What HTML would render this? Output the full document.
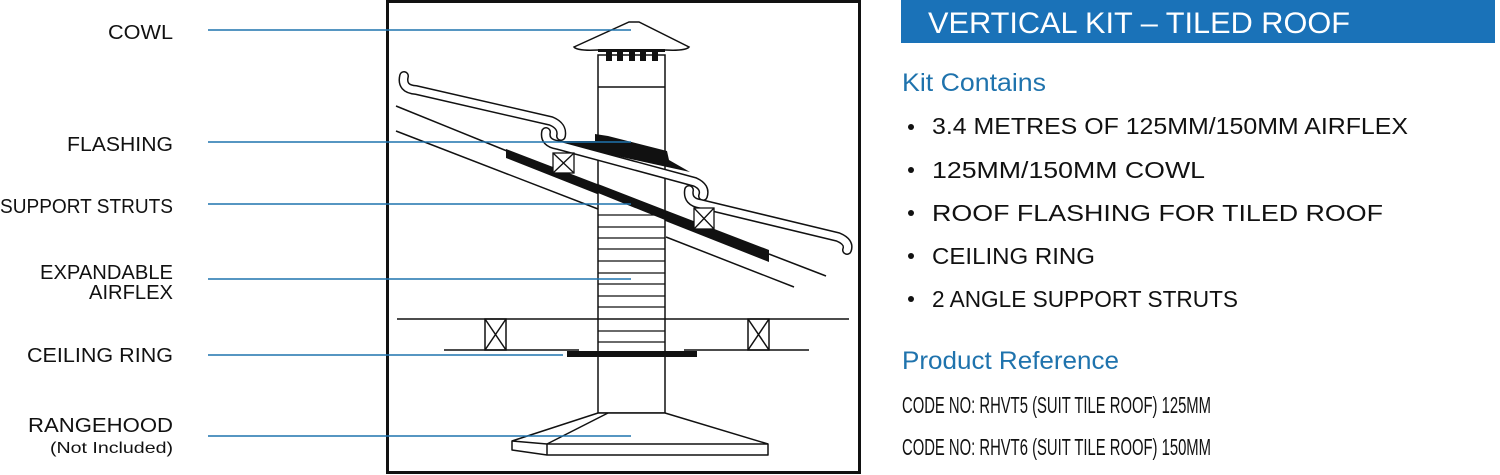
<!DOCTYPE html>
<html><head><meta charset="utf-8"><style>
html,body{margin:0;padding:0;background:#fff;}
svg{display:block;}
text{font-family:"Liberation Sans",sans-serif;}
</style></head><body>
<svg width="1500" height="475" viewBox="0 0 1500 475" xmlns="http://www.w3.org/2000/svg">
<!-- left labels -->
<g fill="#111" font-size="20" text-anchor="end">
<text x="173" y="39" textLength="65" lengthAdjust="spacingAndGlyphs">COWL</text>
<text x="173" y="151" textLength="106" lengthAdjust="spacingAndGlyphs">FLASHING</text>
<text x="173" y="213" textLength="173" lengthAdjust="spacingAndGlyphs">SUPPORT STRUTS</text>
<text x="173" y="279" textLength="133" lengthAdjust="spacingAndGlyphs">EXPANDABLE</text>
<text x="173" y="299" textLength="84" lengthAdjust="spacingAndGlyphs">AIRFLEX</text>
<text x="173" y="362" textLength="146" lengthAdjust="spacingAndGlyphs">CEILING RING</text>
<text x="173" y="432" textLength="145" lengthAdjust="spacingAndGlyphs">RANGEHOOD</text>
<text x="173" y="453" font-size="16" textLength="123" lengthAdjust="spacingAndGlyphs">(Not Included)</text>
</g>
<!-- frame -->
<rect x="387.5" y="1.5" width="472" height="471" fill="none" stroke="#111" stroke-width="3"/>
<g stroke="#111" stroke-width="1.5" fill="none">
<line x1="396" y1="106" x2="507" y2="151"/>
<line x1="769" y1="254" x2="826" y2="276"/>
<line x1="396" y1="131" x2="598" y2="209"/>
<line x1="666" y1="237" x2="794" y2="287"/>
</g>
<polygon points="506,149 769,250 769,262 506,158" fill="#111"/>
<!-- pipe -->
<rect x="598" y="55" width="67" height="358" fill="#fff" stroke="#111" stroke-width="1.5"/>
<line x1="598" y1="87" x2="665" y2="87" stroke="#111" stroke-width="1.5"/>
<g stroke="#111" stroke-width="1.3">
<line x1="598" y1="215" x2="665" y2="215"/><line x1="598" y1="227" x2="665" y2="227"/>
<line x1="598" y1="238" x2="665" y2="238"/><line x1="598" y1="249" x2="665" y2="249"/>
<line x1="598" y1="261" x2="665" y2="261"/><line x1="598" y1="273" x2="665" y2="273"/>
<line x1="598" y1="284" x2="665" y2="284"/><line x1="598" y1="296" x2="665" y2="296"/>
<line x1="598" y1="307" x2="665" y2="307"/><line x1="598" y1="331" x2="665" y2="331"/>
<line x1="598" y1="342" x2="665" y2="342"/>
</g>
<polygon points="598,184 665,210 665,220 598,193" fill="#111"/>
<!-- cowl -->
<path d="M629,22 L639,22 L689,47 Q686,51 665,50 L598,50 Q577,51 574,47 Z" fill="#fff" stroke="#111" stroke-width="1.5"/>
<rect x="598" y="49" width="67" height="3" fill="#111"/>
<g fill="#111"><rect x="606" y="50" width="6" height="11"/><rect x="617" y="50" width="6" height="11"/><rect x="629" y="50" width="6" height="11"/><rect x="640" y="50" width="6" height="11"/><rect x="652" y="50" width="6" height="11"/></g>
<!-- flashing -->
<polygon points="595,134 608,136 667,151 669,160 690,172 548,141 595,141" fill="#111"/>
<!-- tiles -->
<g fill="none" stroke-linecap="round" stroke-linejoin="round">
<path d="M404,76 Q401,89 416,90 L551,121 Q563,126 561,136" stroke="#111" stroke-width="10"/>
<path d="M404,76 Q401,89 416,90 L551,121 Q563,126 561,136" stroke="#fff" stroke-width="7"/>
<path d="M546,132 Q544,143 558,145 L695,182 Q706,187 703,196" stroke="#111" stroke-width="10"/>
<path d="M546,132 Q544,143 558,145 L695,182 Q706,187 703,196" stroke="#fff" stroke-width="7"/>
<path d="M689,190 Q687,202 701,204 L838,237 Q850,242 847,250" stroke="#111" stroke-width="10"/>
<path d="M689,190 Q687,202 701,204 L838,237 Q850,242 847,250" stroke="#fff" stroke-width="7"/>
</g>
<!-- struts -->
<g stroke="#111" stroke-width="1.3" fill="#fff">
<rect x="553" y="153" width="21" height="20"/><line x1="553" y1="153" x2="574" y2="173"/><line x1="574" y1="153" x2="553" y2="173"/>
<rect x="694" y="208" width="20" height="21"/><line x1="694" y1="208" x2="714" y2="229"/><line x1="714" y1="208" x2="694" y2="229"/>
</g>
<!-- ceiling -->
<g stroke="#111" stroke-width="1.5" fill="none">
<line x1="397" y1="319" x2="849" y2="319"/>
<line x1="444" y1="350" x2="579" y2="350"/>
<line x1="684" y1="350" x2="809" y2="350"/>
<rect x="485" y="319" width="21" height="31"/><line x1="485" y1="319" x2="506" y2="350"/><line x1="506" y1="319" x2="485" y2="350"/>
<rect x="748" y="319" width="21" height="31"/><line x1="748" y1="319" x2="769" y2="350"/><line x1="769" y1="319" x2="748" y2="350"/>
</g>
<rect x="567" y="351" width="130" height="6" fill="#111"/>
<!-- rangehood -->
<g stroke="#111" stroke-width="1.5" fill="#fff" stroke-linejoin="round">
<path d="M598,413 L665,413 L768,444 L768,455 L547,455 L512,450 L512,441 Z"/>
<line x1="547" y1="444" x2="768" y2="444"/>
<line x1="547" y1="444" x2="547" y2="455"/>
<line x1="512" y1="441" x2="547" y2="444"/>
<line x1="608" y1="413" x2="547" y2="444"/>
</g>
<!-- leader lines -->
<g stroke="#1f73ad" stroke-width="1.5">
<line x1="208" y1="30" x2="631" y2="30"/>
<line x1="208" y1="142" x2="631" y2="142"/>
<line x1="208" y1="204" x2="631" y2="204"/>
<line x1="208" y1="279" x2="631" y2="279"/>
<line x1="208" y1="355" x2="563" y2="355"/>
<line x1="208" y1="436" x2="631" y2="436"/>
</g>
<!-- right panel -->
<rect x="901" y="0" width="594" height="43" fill="#1a72b8"/>
<text x="928" y="33" fill="#fff" font-size="30" textLength="422" lengthAdjust="spacingAndGlyphs">VERTICAL KIT – TILED ROOF</text>
<text x="902" y="91" fill="#1f73ad" font-size="25" textLength="144" lengthAdjust="spacingAndGlyphs">Kit Contains</text>
<g fill="#111" font-size="23">
<circle cx="911" cy="127" r="3"/><text x="932" y="134" textLength="476" lengthAdjust="spacingAndGlyphs">3.4 METRES OF 125MM/150MM AIRFLEX</text>
<circle cx="911" cy="170" r="3"/><text x="932" y="178" textLength="273" lengthAdjust="spacingAndGlyphs">125MM/150MM COWL</text>
<circle cx="911" cy="213" r="3"/><text x="932" y="221" textLength="451" lengthAdjust="spacingAndGlyphs">ROOF FLASHING FOR TILED ROOF</text>
<circle cx="911" cy="256" r="3"/><text x="932" y="264" textLength="163" lengthAdjust="spacingAndGlyphs">CEILING RING</text>
<circle cx="911" cy="299" r="3"/><text x="932" y="307" textLength="306" lengthAdjust="spacingAndGlyphs">2 ANGLE SUPPORT STRUTS</text>
</g>
<text x="902" y="369" fill="#1f73ad" font-size="25" textLength="217" lengthAdjust="spacingAndGlyphs">Product Reference</text>
<g fill="#111" font-size="23">
<text x="902" y="413" textLength="309" lengthAdjust="spacingAndGlyphs">CODE NO: RHVT5 (SUIT TILE ROOF) 125MM</text>
<text x="902" y="455" textLength="309" lengthAdjust="spacingAndGlyphs">CODE NO: RHVT6 (SUIT TILE ROOF) 150MM</text>
</g>
</svg>
</body></html>
